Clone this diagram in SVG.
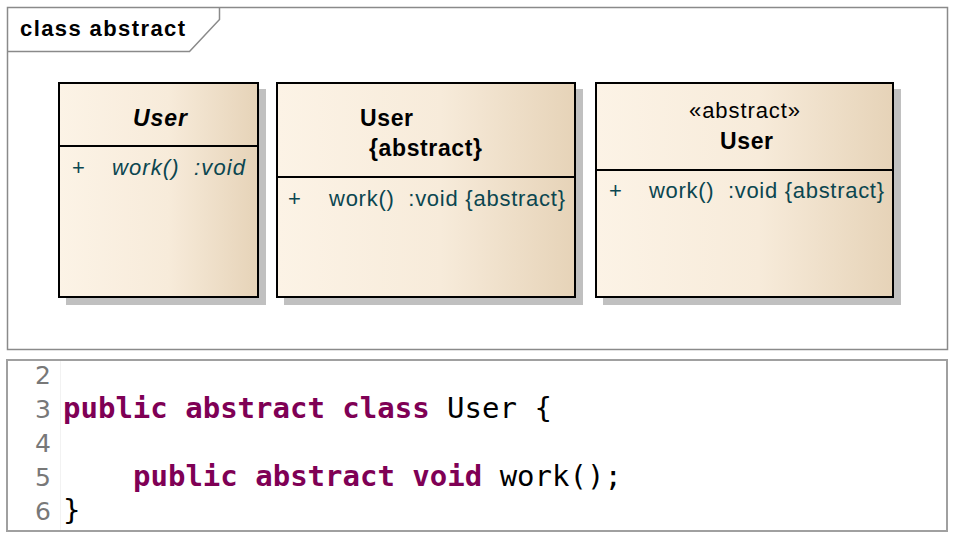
<svg xmlns="http://www.w3.org/2000/svg" width="956" height="533" viewBox="0 0 956 533">
<defs>
<linearGradient id="cls" x1="0" y1="0" x2="1" y2="0">
<stop offset="0" stop-color="#FCF3E6"/>
<stop offset="0.55" stop-color="#F7EBDA"/>
<stop offset="1" stop-color="#E6D3B8"/>
</linearGradient>
</defs>
<style>
.frame{fill:#fff;stroke:#8a8a8a;stroke-width:1.5}
.shadow{fill:#c0c0c0}
.box{fill:url(#cls);stroke:#000;stroke-width:2}
.div{stroke:#000;stroke-width:2}
.title{font-family:"Liberation Sans",Arial,sans-serif;font-size:23px;font-weight:bold;fill:#000}
.ster{font-family:"Liberation Sans",Arial,sans-serif;font-size:22px;fill:#000}
.op{font-family:"Liberation Sans",Arial,sans-serif;font-size:22px;fill:#0B4650}
.code{font-family:"DejaVu Sans Mono","Liberation Mono",monospace;font-size:29px;fill:#000;white-space:pre}
.kw{fill:#7F0055;font-weight:bold}
.ln{font-family:"DejaVu Sans","Liberation Sans",sans-serif;font-size:25px;fill:#787878;text-anchor:end}
</style>
<g id="frame">
<rect class="frame" x="7.5" y="7.5" width="940" height="342"/>
<polyline points="7.5,51.5 189.5,51.5 219.5,19.5 219.5,7.5" fill="none" stroke="#8a8a8a" stroke-width="1.5"/>
<text x="20" y="36" font-family="Liberation Sans, Arial, sans-serif" font-size="22" font-weight="bold" fill="#000" textLength="165" lengthAdjust="spacing">class abstract</text>
</g>
<g id="class1">
<rect class="shadow" x="66" y="89" width="200" height="216"/>
<rect class="box" x="59" y="83" width="199" height="214"/>
<line class="div" x1="59" y1="146" x2="258" y2="146"/>
<text class="title" x="133" y="126" font-style="italic" textLength="54" lengthAdjust="spacing">User</text>
<text class="op" x="72" y="175">+</text>
<text class="op" x="112" y="175" font-style="italic" textLength="133" lengthAdjust="spacing" xml:space="preserve">work()  :void</text>
</g>
<g id="class2">
<rect class="shadow" x="284" y="89" width="299" height="216"/>
<rect class="box" x="277" y="83" width="298" height="214"/>
<line class="div" x1="277" y1="177" x2="575" y2="177"/>
<text class="title" x="360" y="126" textLength="53" lengthAdjust="spacing">User</text>
<text class="title" x="369" y="156" textLength="113" lengthAdjust="spacing">{abstract}</text>
<text class="op" x="288" y="206">+</text>
<text class="op" x="329" y="206" textLength="236" lengthAdjust="spacing" xml:space="preserve">work()  :void {abstract}</text>
</g>
<g id="class3">
<rect class="shadow" x="603" y="89" width="298" height="216"/>
<rect class="box" x="596" y="83" width="297" height="214"/>
<line class="div" x1="596" y1="170" x2="893" y2="170"/>
<text class="ster" x="689" y="118" textLength="111" lengthAdjust="spacing">«abstract»</text>
<text class="title" x="720" y="149" textLength="53" lengthAdjust="spacing">User</text>
<text class="op" x="609" y="198">+</text>
<text class="op" x="649" y="198" textLength="235" lengthAdjust="spacing" xml:space="preserve">work()  :void {abstract}</text>
</g>
<g id="connectors"/>
<g id="code">
<rect x="7" y="360" width="940" height="171" fill="#fff" stroke="#a0a0a0" stroke-width="2"/>
<line x1="60.5" y1="361" x2="60.5" y2="530" stroke="#f2f2f2" stroke-width="1"/>
<text class="ln" x="51" y="384">2</text>
<text class="ln" x="51" y="418">3</text>
<text class="ln" x="51" y="452">4</text>
<text class="ln" x="51" y="486">5</text>
<text class="ln" x="51" y="520">6</text>
<text class="code" x="63" y="418" xml:space="preserve"><tspan class="kw">public abstract class</tspan> User {</text>
<text class="code" x="133" y="486" xml:space="preserve"><tspan class="kw">public abstract void</tspan> work();</text>
<text class="code" x="63" y="520">}</text>
</g>
</svg>
